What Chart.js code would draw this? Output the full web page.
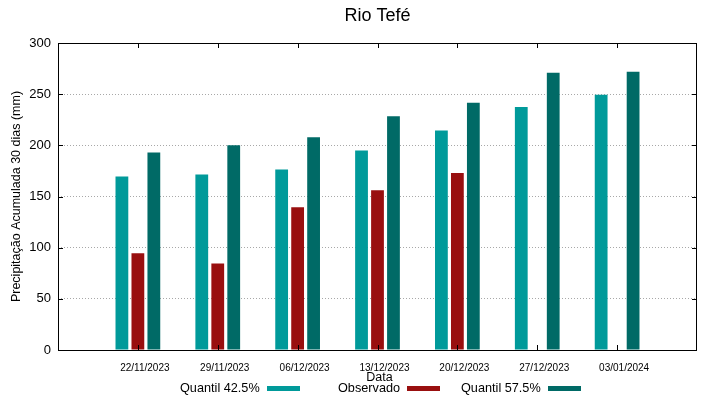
<!DOCTYPE html>
<html>
<head>
<meta charset="utf-8">
<script src="https://cdn.jsdelivr.net/npm/chart.js@4/dist/chart.umd.min.js"></script>
<style>
  html, body { margin: 0; padding: 0; background: #fff; }
  #wrap { width: 719px; height: 399px; }
</style>
</head>
<body>
<div id="wrap"><canvas id="chart" width="719" height="399"></canvas></div>
<script>
// data
const dates = ['', '22/11/2023', '29/11/2023', '06/12/2023', '13/12/2023', '20/12/2023', '27/12/2023', '03/01/2024', ''];
const quantil425 = [null, 169.5, 171.5, 176.5, 195, 214.5, 237.5, 249.5, null];
const observado = [null, 94.5, 84.5, 139.5, 156, 173, null, null, null];
const quantil575 = [null, 193, 200, 208, 228.5, 241.5, 271, 272, null];
const yTicks = [0, 50, 100, 150, 200, 250, 300];

const FONT = 'Liberation Sans, Arial, sans-serif';

// gnuplot-like frame, title, xlabel and legend (text first, then sample)
const framePlugin = {
  id: 'frame',
  afterDraw(chart) {
    const ctx = chart.ctx;
    const a = chart.chartArea;
    const x = chart.scales.x;
    const y = chart.scales.y;
    ctx.save();
    ctx.strokeStyle = '#000';
    ctx.lineWidth = 1;
    ctx.strokeRect(Math.round(a.left) + 0.5, Math.round(a.top) + 0.5,
      Math.round(a.right - a.left) - 1, Math.round(a.bottom - a.top));

    // inward ticks
    ctx.beginPath();
    for (let i = 1; i < dates.length - 1; i++) {
      const px = Math.round(x.getPixelForValue(i)) + 0.5;
      ctx.moveTo(px, a.top); ctx.lineTo(px, a.top + 5);
      ctx.moveTo(px, a.bottom); ctx.lineTo(px, a.bottom - 5);
    }
    yTicks.forEach(v => {
      const py = Math.round(y.getPixelForValue(v)) + 0.5;
      ctx.moveTo(a.left, py); ctx.lineTo(a.left + 5, py);
      ctx.moveTo(a.right, py); ctx.lineTo(a.right - 5, py);
    });
    ctx.stroke();

    ctx.fillStyle = '#000';
    ctx.textBaseline = 'middle';
    ctx.textAlign = 'center';
    ctx.font = '18px ' + FONT;
    ctx.fillText('Rio Tefé', (a.left + a.right) / 2, 16);
    ctx.font = '12.5px ' + FONT;
    ctx.fillText('Data', (a.left + a.right) / 2 + 2, 378);

    // legend
    const items = [
      { x: 180, box: 267 },
      { x: 338, box: 407 },
      { x: 461, box: 548 }
    ];
    ctx.font = '12.7px ' + FONT;
    ctx.textAlign = 'left';
    chart.data.datasets.forEach((ds, i) => {
      const it = items[i];
      ctx.fillStyle = '#000';
      ctx.fillText(ds.label, it.x, 388);
      ctx.fillStyle = ds.backgroundColor;
      ctx.fillRect(it.box, 386, 33, 5);
    });
    ctx.restore();
  }
};

new Chart(document.getElementById('chart'), {
  type: 'bar',
  data: {
    labels: dates,
    datasets: [
      { label: 'Quantil 42.5%', data: quantil425, backgroundColor: '#009a9a' },
      { label: 'Observado', data: observado, backgroundColor: '#990f0f' },
      { label: 'Quantil 57.5%', data: quantil575, backgroundColor: '#006a66' }
    ]
  },
  options: {
    responsive: false,
    animation: false,
    layout: { padding: { left: 0, top: 43, right: 22, bottom: 0 } },
    datasets: { bar: { categoryPercentage: 0.6, barPercentage: 0.8 } },
    plugins: {
      legend: { display: false },
      title: { display: false },
      tooltip: { enabled: false }
    },
    scales: {
      x: {
        offset: false,
        grid: { display: false, drawTicks: false },
        border: { display: false },
        ticks: {
          color: '#000',
          font: { family: FONT, size: 10 },
          padding: 12,
          labelOffset: 7,
          maxRotation: 0,
          autoSkip: false
        },
        afterFit(scale) { scale.height = 49; }
      },
      y: {
        min: 0,
        max: 300,
        afterBuildTicks(scale) { scale.ticks = yTicks.map(v => ({ value: v })); },
        grid: { color: '#a8a8a8', drawTicks: false },
        border: { display: false, dash: [1, 2] },
        ticks: {
          color: '#000',
          font: { family: FONT, size: 13 },
          padding: 7
        },
        title: {
          display: true,
          text: 'Precipitação Acumulada 30 dias (mm)',
          color: '#000',
          font: { family: FONT, size: 12.5 },
          padding: { top: 9, bottom: 0 }
        },
        afterFit(scale) { scale.width = 58; }
      }
    }
  },
  plugins: [framePlugin]
});
</script>
</body>
</html>
